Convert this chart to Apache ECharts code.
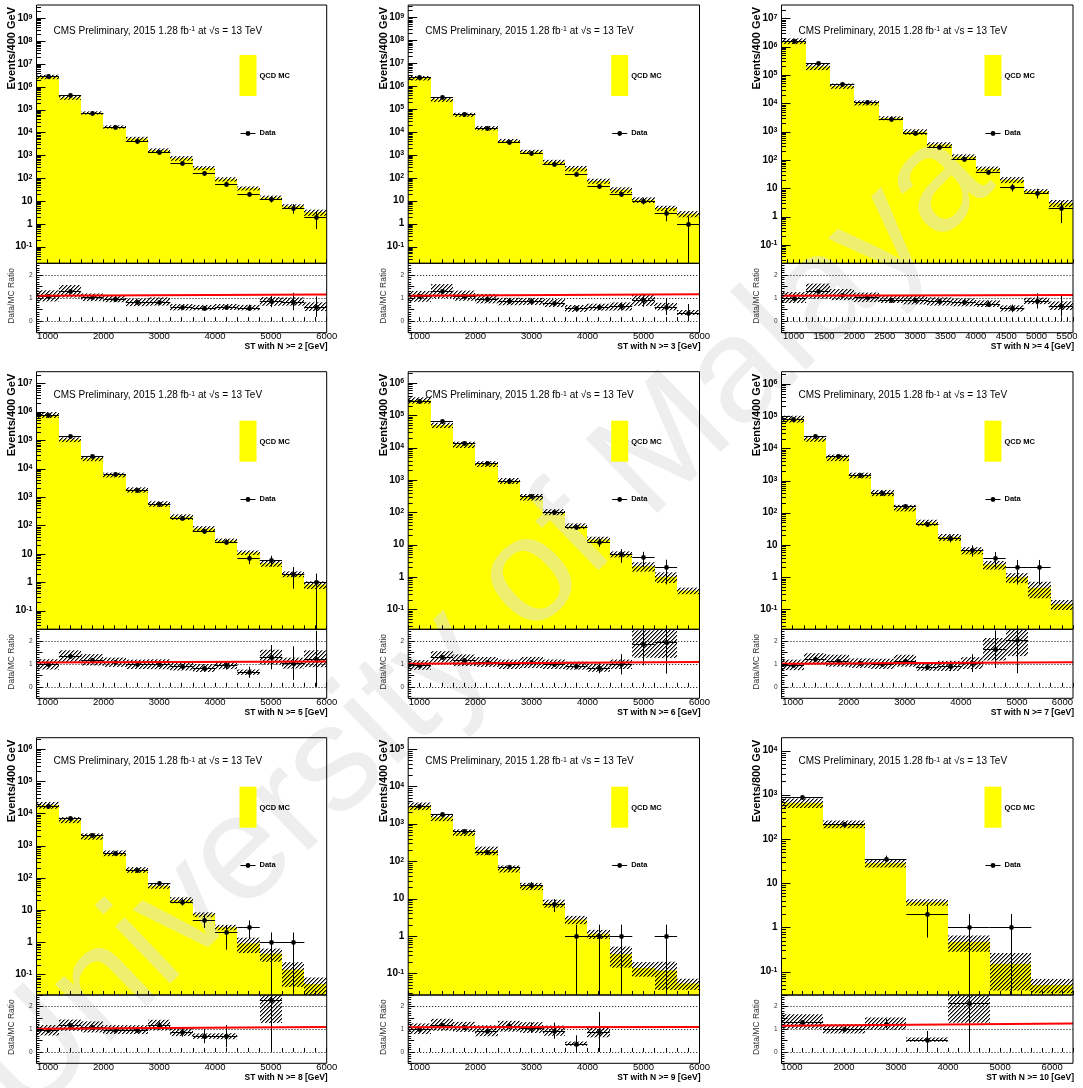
<!DOCTYPE html>
<html>
<head>
<meta charset="utf-8">
<script src="https://cdn.jsdelivr.net/npm/echarts@6.0.0/dist/echarts.min.js"></script>
<style>html,body{margin:0;padding:0;background:#fff}#c{width:1083px;height:1088px}</style>
</head>
<body>
<div id="c"></div>
<script>
// ---------------- DATA ----------------
const edges400  = [800,1200,1600,2000,2400,2800,3200,3600,4000,4400,4800,5200,5600,6000];
const edges400s = [800,1200,1600,2000,2400,2800,3200,3600,4000,4400,4800,5200,5600];
const edges800  = [800,1600,2400,3200,4000,4800,5600,6400];

// N >= 2
const mcN2   = [2.75e6,3.41e5,7.2e4,1.75e4,5370,1650,745,279,90,35.9,14.1,5.9,3.2];
const errN2  = [0.22,0.21,0.16,0.16,0.20,0.21,0.23,0.20,0.21,0.20,0.22,0.21,0.30];
const dataN2 = [3.0e6,4.4e5,7.4e4,1.7e4,4350,1400,447,163,55,21,12,5,2];
const fitN2  = [1.10,1.155];
// N >= 3
const mcN3   = [2.26e6,2.67e5,5.73e4,1.49e4,4180,1410,500,260,73,30,11.1,4.8,2.7];
const errN3  = [0.22,0.23,0.20,0.21,0.19,0.18,0.22,0.27,0.25,0.28,0.27,0.26,0.30];
const dataN3 = [2.42e6,3.47e5,6.3e4,1.45e4,3550,1200,390,143,44,19,10,3,1];
const fitN3  = [1.10,1.16];
// N >= 4
const mcN4   = [1.59e6,1.98e5,4.1e4,1.05e4,3000,990,347,130,49,20,8,3.0];
const errN4  = [0.23,0.25,0.21,0.20,0.16,0.22,0.21,0.21,0.19,0.24,0.16,0.28];
const dataN4 = [1.62e6,2.57e5,4.7e4,1.08e4,2800,920,295,105,37,11,7,2];
const fitN4  = [1.10,1.13];
// N >= 5
const mcN5   = [7.9e5,1.05e5,2.3e4,6000,1800,577,200,77,29,11,4.65,1.94,0.82];
const errN5  = [0.23,0.19,0.21,0.19,0.21,0.22,0.22,0.21,0.18,0.18,0.25,0.23,0.30];
const dataN5 = [7.7e5,1.4e5,2.7e4,6400,1760,565,182,63,27,7,6,2,1];
const fitN5  = [1.06,1.105];
// N >= 6
const mcN6   = [2.95e5,5.0e4,1.25e4,3150,950,300,103,38,14.5,5.1,2.15,1.02,0.38];
const errN6  = [0.22,0.19,0.22,0.20,0.21,0.23,0.21,0.19,0.21,0.21,0.32,0.36,0.23];
const dataN6 = [2.8e5,6.5e4,1.44e4,3400,930,317,101,35,12,5,4,2,0];
const fitN6  = [1.00,1.075];
// N >= 7
const mcN7   = [8.3e4,2.0e4,5200,1460,420,143,50,17.6,6.8,2.45,0.99,0.47,0.145];
const errN7  = [0.24,0.20,0.23,0.20,0.22,0.23,0.21,0.24,0.25,0.30,0.34,0.53,0.34];
const dataN7 = [7.9e4,2.43e4,5900,1500,420,162,44,16,7,4,2,2,0];
const fitN7  = [1.00,1.07];
// N >= 8
const mcN8   = [1.83e4,6300,1950,587,178,57,20.5,7.2,2.9,0.92,0.44,0.14,0.05];
const errN8  = [0.24,0.21,0.22,0.20,0.20,0.20,0.21,0.17,0.19,0.50,0.44,0.71,0.60];
const dataN8 = [1.74e4,7400,2140,575,174,67,18,5,2,3,1,1,0];
const fitN8  = [1.02,1.09];
// N >= 9
const mcN9   = [3000,1500,586,194,63,21.5,7.5,2.75,1.14,0.33,0.14,0.12,0.054];
const errN9  = [0.23,0.22,0.20,0.26,0.21,0.22,0.24,0.25,0.27,0.57,0.42,0.70,0.33];
const dataN9 = [3050,1790,645,180,71,23,7,1,1,1,0,1,0];
const fitN9  = [1.08,1.09];
// N >= 10
const mcN10   = [660,217,29,3.7,0.47,0.15,0.05];
const errN10  = [0.24,0.20,0.22,0.17,0.40,0.75,0.35];
const dataN10 = [880,219,36,2,1,1,0];
const fitN10  = [1.15,1.25];

// axis ranges (log10 of min / max) and tick labels
const yLogRanges = [[-1.73,9.58],[-1.73,9.54],[-1.65,7.47],[-1.66,7.41],[-1.62,6.35],[-1.62,6.38],[-1.64,6.35],[-1.58,5.30],[-1.53,4.29]];
const yLabelExps = [
  [-1,0,1,2,3,4,5,6,7,8,9],[-1,0,1,2,3,4,5,6,7,8,9],[-1,0,1,2,3,4,5,6,7],
  [-1,0,1,2,3,4,5,6,7],[-1,0,1,2,3,4,5,6],[-1,0,1,2,3,4,5,6],
  [-1,0,1,2,3,4,5,6],[-1,0,1,2,3,4,5],[-1,0,1,2,3,4]
];
const xTitles = ['ST with N >= 2 [GeV]','ST with N >= 3 [GeV]','ST with N >= 4 [GeV]',
                 'ST with N >= 5 [GeV]','ST with N >= 6 [GeV]','ST with N >= 7 [GeV]',
                 'ST with N >= 8 [GeV]','ST with N >= 9 [GeV]','ST with N >= 10 [GeV]'];
const yTitles = ['Events/400 GeV','Events/400 GeV','Events/400 GeV','Events/400 GeV','Events/400 GeV',
                 'Events/400 GeV','Events/400 GeV','Events/400 GeV','Events/800 GeV'];
const xLabelStep = [1000,1000,500,1000,1000,1000,1000,1000,1000];
const xTickStep  = [200,200,100,200,200,200,200,200,200];
const ratioRange = [-0.5, 2.5];
const ratioRefLines = [0, 1, 2];
const cmsText = 'CMS Preliminary, 2015 1.28 fb{sup|-1} at \u221As = 13 TeV';

// ---------------- LAYOUT ----------------
const colLeft  = [36.5, 408.2, 781.5];
const colWidth = [290.2, 291.3, 291.5];
const rowTop   = [5, 371.7, 737.7];
const mainH    = [258.3, 257.6, 257.3];
const ratioH   = [69.4, 69.0, 68.3];
const FONT = '"Liberation Sans", Arial, Helvetica, sans-serif';
const YELLOW = '#ffff00';

const panels = [
  {edges:edges400,  mc:mcN2,  err:errN2,  data:dataN2,  fit:fitN2},
  {edges:edges400,  mc:mcN3,  err:errN3,  data:dataN3,  fit:fitN3},
  {edges:edges400s, mc:mcN4,  err:errN4,  data:dataN4,  fit:fitN4},
  {edges:edges400,  mc:mcN5,  err:errN5,  data:dataN5,  fit:fitN5},
  {edges:edges400,  mc:mcN6,  err:errN6,  data:dataN6,  fit:fitN6},
  {edges:edges400,  mc:mcN7,  err:errN7,  data:dataN7,  fit:fitN7},
  {edges:edges400,  mc:mcN8,  err:errN8,  data:dataN8,  fit:fitN8},
  {edges:edges400,  mc:mcN9,  err:errN9,  data:dataN9,  fit:fitN9},
  {edges:edges800,  mc:mcN10, err:errN10, data:dataN10, fit:fitN10}
];

// hatch pattern (ROOT style 3004, "/")
const hatch = document.createElement('canvas');
hatch.width = 4; hatch.height = 4;
(function(){
  const g = hatch.getContext('2d');
  g.fillStyle = '#000';
  for (let i = 0; i < 4; i++) g.fillRect(i, 3 - i, 1, 1);
  g.fillStyle = 'rgba(0,0,0,0.45)';
  for (let i = 0; i < 4; i++) g.fillRect(i, (4 - i) % 4, 1, 1);
})();
const hatchFill = {image: hatch, repeat: 'repeat'};

// ---------------- HELPERS ----------------
function cx(api, x, yRef) { return api.coord([x, yRef])[0]; }
function cy(api, cs, y, xRef, isLog) {
  const bot = cs.y + cs.height;
  if (isLog && !(y > 0)) return bot;
  const v = api.coord([xRef, y])[1];
  return Math.max(cs.y, Math.min(bot, v));
}
function renderYellow(yRef) {
  return function(params, api) {
    const cs = params.coordSys;
    const x0 = Math.round(cx(api, api.value(0), yRef));
    const x1 = Math.round(cx(api, api.value(1), yRef));
    const yt = cy(api, cs, api.value(2), api.value(0), true);
    const yb = cs.y + cs.height;
    return {type:'rect', shape:{x:x0, y:yt, width:x1 - x0, height:yb - yt}, style:{fill:YELLOW}};
  };
}
function renderBand(yRef, isLog) {
  return function(params, api) {
    const cs = params.coordSys;
    const x0 = Math.round(cx(api, api.value(0), yRef));
    const x1 = Math.round(cx(api, api.value(1), yRef));
    const c = api.value(2), e = api.value(3);
    const yt = cy(api, cs, c * (1 + e), api.value(0), isLog);
    const yb = cy(api, cs, c * (1 - e), api.value(0), isLog);
    if (yb - yt <= 0) return;
    return {type:'rect', shape:{x:x0, y:yt, width:x1 - x0, height:yb - yt}, style:{fill:hatchFill}};
  };
}
function renderPts(yRef, isLog, errIdx) {
  return function(params, api) {
    const cs = params.coordSys; const bot = cs.y + cs.height;
    const xa = api.value(0), xb = api.value(1), v = api.value(2), e = api.value(errIdx);
    const yRaw = api.coord([xa, v])[1];
    if (!(yRaw >= cs.y - 0.5 && yRaw <= bot + 0.5)) return;
    const x0 = cx(api, xa, yRef), x1 = cx(api, xb, yRef);
    const xc = Math.round((x0 + x1) / 2) + 0.5;
    const yc = Math.round(yRaw) + 0.5;
    const yHi = cy(api, cs, v + e, xa, isLog), yLo = cy(api, cs, v - e, xa, isLog);
    return {type:'group', children:[
      {type:'line', shape:{x1:x0, y1:yc, x2:x1, y2:yc}, style:{stroke:'#000', lineWidth:1}},
      {type:'line', shape:{x1:xc, y1:yHi, x2:xc, y2:yLo}, style:{stroke:'#000', lineWidth:1}},
      {type:'circle', shape:{cx:xc, cy:yc, r:2.4}, style:{fill:'#000'}}
    ]};
  };
}
function expLabel(e) {
  if (e === 0) return '1';
  if (e === 1) return '10';
  return '10{s|' + e + '}';
}
function renderLogTicks(xMin, yLog, exps) {
  return function(params, api) {
    const cs = params.coordSys;
    const L = cs.x;
    const children = [];
    for (let e = Math.floor(yLog[0]); e <= Math.ceil(yLog[1]); e++) {
      for (let k = 1; k <= 9; k++) {
        const v = k * Math.pow(10, e);
        const lv = Math.log10(v);
        if (lv < yLog[0] || lv > yLog[1]) continue;
        const y = Math.round(api.coord([xMin, v])[1]) + 0.5;
        const len = k === 1 ? 9 : 4.5;
        children.push({type:'line', shape:{x1:L, y1:y, x2:L + len, y2:y}, style:{stroke:'#000', lineWidth:1}});
      }
    }
    exps.forEach(function(e) {
      const y = api.coord([xMin, Math.pow(10, e)])[1];
      children.push({type:'text', x:L - 4, y:y + 5, style:{
        text: expLabel(e), align:'right', verticalAlign:'bottom',
        font:'bold 10px ' + FONT, fill:'#000',
        rich:{s:{fontSize:7, fontWeight:'bold', fontFamily:FONT, verticalAlign:'top', lineHeight:10, padding:[0,0,4,0]}}
      }});
    });
    return {type:'group', children:children};
  };
}

// ---------------- BUILD OPTION ----------------
const grid = [], xAxis = [], yAxis = [], series = [], graphic = [];

panels.forEach(function(P, i) {
  const r = Math.floor(i / 3), c = i % 3;
  const L = colLeft[c], W = colWidth[c], T = rowTop[r], H1 = mainH[r], H2 = ratioH[r];
  const xMin = P.edges[0], xMax = P.edges[P.edges.length - 1];
  const yLog = yLogRanges[i];
  const yMinV = Math.pow(10, yLog[0]), yMaxV = Math.pow(10, yLog[1]);
  const gT = 2 * i, gR = 2 * i + 1;
  const gridBase = {show:true, borderColor:'#000', borderWidth:1, backgroundColor:'transparent', z:9, containLabel:false, outerBoundsMode:'none'};
  grid.push(Object.assign({left:L, top:T, width:W, height:H1}, gridBase));
  grid.push(Object.assign({left:L, top:T + H1, width:W, height:H2}, gridBase));

  const step = xLabelStep[i];
  const mkX = function(gi, showLabels) {
    return {gridIndex:gi, type:'value', min:xMin, max:xMax, interval:xTickStep[i], z:9,
      axisLine:{show:false}, splitLine:{show:false},
      axisTick:{show:true, inside:true, length:4, lineStyle:{color:'#000', width:1}},
      axisLabel:{show:showLabels, color:'#000', fontSize:9.5, fontFamily:FONT, margin:-1,
        showMinLabel:true, showMaxLabel:true, alignMaxLabel:(c === 2 && xMax % step === 0) ? 'right' : null,
        formatter:function(v){ return (v % step === 0) ? String(v) : ''; }}};
  };
  xAxis.push(mkX(gT, false));
  xAxis.push(mkX(gR, true));

  yAxis.push({gridIndex:gT, type:'log', logBase:10, min:yMinV, max:yMaxV,
    axisLine:{show:false}, axisTick:{show:false}, axisLabel:{show:false}, splitLine:{show:false}});
  yAxis.push({gridIndex:gR, type:'value', min:ratioRange[0], max:ratioRange[1], interval:0.5, z:9,
    axisLine:{show:false}, splitLine:{show:false},
    axisTick:{show:true, inside:true, length:6, lineStyle:{color:'#000'}},
    minorTick:{show:true, splitNumber:5, length:3, lineStyle:{color:'#000'}},
    axisLabel:{color:'#333', fontSize:6.5, fontFamily:FONT, margin:4,
      formatter:function(v){ return Number.isInteger(v) ? String(v) : ''; }}});

  const bins = P.mc.map(function(m, k) {
    return {x0:P.edges[k], x1:P.edges[k + 1], mc:m, err:P.err[k], n:P.data[k]};
  });
  const hasData = bins.filter(function(b){ return b.n > 0; });
  const ratioRows = hasData.map(function(b) {
    const rv = b.n / b.mc;
    return [b.x0, b.x1, rv, b.err, rv / Math.sqrt(b.n)];
  }).filter(function(d){ return d[2] >= ratioRange[0] && d[2] <= ratioRange[1]; });

  series.push({type:'custom', xAxisIndex:gT, yAxisIndex:gT, z:2, silent:true, encode:{x:[0,1], y:2},
    renderItem:renderYellow(yMinV), data:bins.map(function(b){ return [b.x0, b.x1, b.mc]; })});
  series.push({type:'custom', xAxisIndex:gT, yAxisIndex:gT, z:3, silent:true, encode:{x:[0,1], y:2},
    renderItem:renderBand(yMinV, true), data:bins.map(function(b){ return [b.x0, b.x1, b.mc, b.err]; })});
  series.push({type:'custom', xAxisIndex:gT, yAxisIndex:gT, z:4, silent:true, encode:{x:[0,1], y:2},
    renderItem:renderPts(yMinV, true, 3), data:hasData.map(function(b){ return [b.x0, b.x1, b.n, Math.sqrt(b.n)]; })});
  series.push({type:'custom', xAxisIndex:gT, yAxisIndex:gT, z:10, silent:true, encode:{x:0, y:1},
    renderItem:renderLogTicks(xMin, yLog, yLabelExps[i]), data:[[xMin, yMinV]]});

  series.push({type:'custom', xAxisIndex:gR, yAxisIndex:gR, z:3, silent:true, encode:{x:[0,1], y:2},
    renderItem:renderBand(0, false), data:ratioRows});
  series.push({type:'custom', xAxisIndex:gR, yAxisIndex:gR, z:4, silent:true, encode:{x:[0,1], y:2},
    renderItem:renderPts(0, false, 4), data:ratioRows});
  series.push({type:'line', xAxisIndex:gR, yAxisIndex:gR, z:8, silent:true, symbol:'none',
    lineStyle:{color:'#ff0000', width:2}, data:[[xMin, P.fit[0]], [xMax, P.fit[1]]],
    markLine:{silent:true, symbol:['none','none'], label:{show:false},
      lineStyle:{color:'#000', width:1, type:[1,2]},
      data:ratioRefLines.map(function(v){ return {yAxis:v}; })}});

  // texts / legend
  const rowOff = r === 0 ? 2 : 0;
  graphic.push({type:'text', x:L + 17, y:T + 24 + rowOff, silent:true, z:20, style:{
    text:cmsText, align:'left', verticalAlign:'middle', font:'10px ' + FONT, fill:'#000',
    rich:{sup:{fontSize:7, fontFamily:FONT, verticalAlign:'top', lineHeight:10, padding:[0,0,5,0]}}}});
  graphic.push({type:'rect', silent:true, z:20, shape:{x:L + 203, y:T + 49 + rowOff / 2, width:17, height:41}, style:{fill:YELLOW}});
  graphic.push({type:'text', x:L + 223, y:T + 70 + rowOff / 2, silent:true, z:20, style:{text:'QCD MC', align:'left', verticalAlign:'middle', font:'bold 7.5px ' + FONT, fill:'#000'}});
  const dy = T + 127 + rowOff / 2;
  graphic.push({type:'line', silent:true, z:20, shape:{x1:L + 204, y1:Math.round(dy) + 0.5, x2:L + 219, y2:Math.round(dy) + 0.5}, style:{stroke:'#000', lineWidth:1}});
  graphic.push({type:'circle', silent:true, z:20, shape:{cx:L + 211.5, cy:Math.round(dy) + 0.5, r:2.4}, style:{fill:'#000'}});
  graphic.push({type:'text', x:L + 223, y:dy, silent:true, z:20, style:{text:'Data', align:'left', verticalAlign:'middle', font:'bold 7.5px ' + FONT, fill:'#000'}});
  graphic.push({type:'text', x:L - 24.5, y:T + 2, rotation:Math.PI / 2, silent:true, z:20, style:{text:yTitles[i], align:'right', verticalAlign:'middle', font:'bold 11px ' + FONT, fill:'#000'}});
  graphic.push({type:'text', x:L - 24.5, y:T + H1 + H2 / 2 - 2, rotation:Math.PI / 2, silent:true, z:20, style:{text:'Data/MC Ratio', align:'center', verticalAlign:'middle', font:'8.5px ' + FONT, fill:'#333'}});
  graphic.push({type:'text', x:L + W + 1, y:T + H1 + H2 + 14, silent:true, z:20, style:{text:xTitles[i], align:'right', verticalAlign:'middle', font:'bold 8.5px ' + FONT, fill:'#000'}});
});

// watermark (sits above the yellow fill, below the marks)
graphic.push({type:'text', x:482, y:625, rotation:44 * Math.PI / 180, silent:true, z:2.5,
  style:{text:'University of Malaya', align:'center', verticalAlign:'middle', font:'150px ' + FONT, fill:'rgba(221,221,221,0.5)'}});

const chart = echarts.init(document.getElementById('c'), null, {renderer:'canvas'});
chart.setOption({
  animation:false,
  backgroundColor:'#ffffff',
  textStyle:{fontFamily:FONT},
  grid:grid, xAxis:xAxis, yAxis:yAxis, series:series, graphic:graphic
});
</script>
</body>
</html>
